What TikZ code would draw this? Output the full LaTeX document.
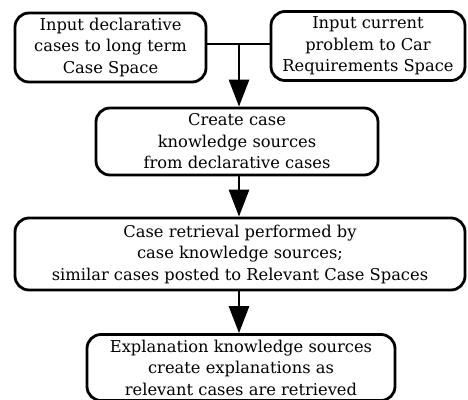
\documentclass[tikz,border=0pt]{standalone}
\usepackage{fontspec}
\setmainfont{DejaVu Serif}
\usetikzlibrary{arrows.meta}
\begin{document}
\begin{tikzpicture}[x=1pt,y=-1pt,
  box/.style={draw,line width=2.8pt,rounded corners=14pt,align=center,inner sep=0pt,
    font=\fontsize{16.3}{21.5}\selectfont},
  link/.style={line width=2.8pt},
  arr/.style={line width=2.8pt,-{Triangle[width=20pt,length=27pt]}}]
\useasboundingbox (0,0) rectangle (468,399);
\clip (0,0) rectangle (468,399);
\node[box,minimum width=191pt,minimum height=69pt] (b1) at (110.5,47.5)
  {Input declarative\\cases to long term\\Case Space};
\node[box,minimum width=194pt,minimum height=69pt] (b2) at (368,46)
  {Input current\\problem to Car\\Requirements Space};
\node[box,minimum width=282pt,minimum height=67pt] (b3) at (237,141.5)
  {Create case\\knowledge sources\\from declarative cases};
\node[box,minimum width=450pt,minimum height=72pt] (b4) at (240,254)
  {Case retrieval performed by\\case knowledge sources;\\similar cases posted to Relevant Case Spaces};
\node[box,minimum width=308pt,minimum height=66pt] (b5) at (241,367.5)
  {Explanation knowledge sources\\create explanations as\\relevant cases are retrieved};
\coordinate (j) at (239,44);
\draw[link] (b1.east |- j) -- (b2.west |- j);
\draw[arr] (j) -- (j |- b3.north);
\draw[arr] (b3.south -| j) -- (j |- b4.north);
\draw[arr] (b4.south -| j) -- (j |- b5.north);
\end{tikzpicture}
\end{document}
